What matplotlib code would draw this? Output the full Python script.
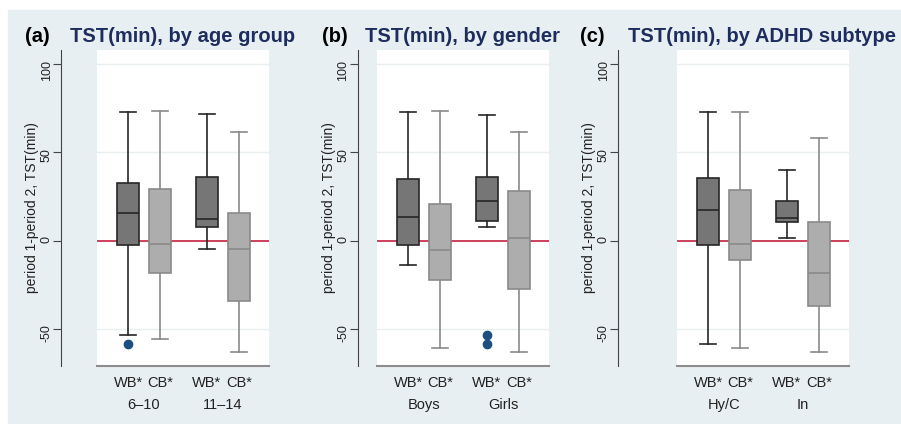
import matplotlib
matplotlib.use('Agg')
from matplotlib import pyplot as plt
from matplotlib import transforms

plt.rcParams['font.family'] = ['Liberation Sans', 'DejaVu Sans']
plt.rcParams['axes.unicode_minus'] = False

# five-number summaries, order: WB*, CB*, WB*, CB*
titles = ["TST(min), by age group", "TST(min), by gender", "TST(min), by ADHD subtype"]
panel_tags = ["(a)", "(b)", "(c)"]
groups = [["6\u201310", "11\u201314"], ["Boys", "Girls"], ["Hy/C", "In"]]
box_labels = ["WB*", "CB*", "WB*", "CB*"]

whishi = [[72.9, 73.5, 71.6, 61.5],
          [72.9, 73.3, 71.4, 61.5],
          [72.7, 73.1, 40.2, 58.1]]
q3 = [[32.8, 29.0, 36.2, 15.5],
      [34.7, 20.8, 36.2, 28.2],
      [35.6, 28.6, 22.2, 10.8]]
med = [[15.5, -1.9, 12.1, -4.9],
       [13.3, -5.3, 22.3, 1.5],
       [17.2, -1.9, 12.7, -18.6]]
q1 = [[-2.7, -18.6, 8.0, -34.3],
      [-2.7, -22.3, 11.2, -27.3],
      [-2.7, -11.2, 10.8, -36.9]]
whislo = [[-53.2, -55.9, -4.9, -63.0],
          [-13.8, -60.8, 7.6, -63.0],
          [-58.3, -60.8, 1.3, -63.0]]
fliers = [[[-58.3], [], [], []],
          [[], [], [-53.2, -58.3], []],
          [[], [], [], []]]

W, H = 901, 424
bg = '#e8eff2'
fig = plt.figure(figsize=(W / 100, H / 100), dpi=100, facecolor='white')
fig.patches.append(plt.Rectangle((8 / W, 0), 1, 1 - 10 / H, transform=fig.transFigure,
                                 color=bg, zorder=-10))

positions = [1, 2, 3.47, 4.47]
ax_left = [97, 377, 677]
spine_x = [61, 357.7, 618]
tag_x = [25, 322, 580]
title_x = [70, 365, 628]

dark_fill, dark_edge = '#767676', '#262626'
light_fill, light_edge = '#adadad', '#8a8a8a'

for p in range(3):
    ax = fig.add_axes([ax_left[p] / W, 58 / H, 172 / W, 316 / H])
    ax.set_facecolor('white')
    stats = []
    for i in range(4):
        stats.append(dict(med=med[p][i], q1=q1[p][i], q3=q3[p][i],
                          whislo=whislo[p][i], whishi=whishi[p][i],
                          fliers=fliers[p][i]))
    bp = ax.bxp(stats, positions=positions, widths=0.69, capwidths=0.5,
                patch_artist=True, manage_ticks=False,
                flierprops=dict(marker='o', markerfacecolor='#1b4f82',
                                markeredgecolor='#1b4f82', markersize=6))
    for i in range(4):
        fill, edge = (dark_fill, dark_edge) if i % 2 == 0 else (light_fill, light_edge)
        bp['boxes'][i].set(facecolor=fill, edgecolor=edge, linewidth=1.2, zorder=3)
        bp['medians'][i].set(color=edge, linewidth=1.2, zorder=4)
        for part in ('whiskers', 'caps'):
            for ln in bp[part][2 * i:2 * i + 2]:
                ln.set(color=edge, linewidth=1.2, zorder=2)

    for g in (100, 50, -50):
        ax.axhline(g, color='#eaf0f0', lw=1, zorder=0)
    ax.axhline(0, color='#c4203f', lw=1.2, zorder=1)

    ax.set_ylim(-71, 108)
    ax.set_xlim(0.03, 5.41)
    ax.set_yticks([-50, 0, 50, 100])
    ax.tick_params(axis='y', labelrotation=90, labelsize=9, length=6,
                   color='#444444', labelcolor='#222222', pad=0)
    for lbl in ax.get_yticklabels():
        lbl.set_va('center')
    ax.set_xticks(positions)
    ax.set_xticklabels(box_labels)
    ax.tick_params(axis='x', length=0, labelsize=10.5, pad=7, labelcolor='#222222')
    ax.set_ylabel("period 1-period 2, TST(min)", fontsize=10, color='#222222', va='center')
    ax.yaxis.set_label_coords((spine_x[p] - 29 - ax_left[p]) / 172, 0.5)

    for s in ('top', 'right'):
        ax.spines[s].set_visible(False)
    ax.spines['left'].set_position(('outward', (ax_left[p] - spine_x[p]) * 0.72))
    ax.spines['left'].set_color('#444444')
    ax.spines['bottom'].set_color('#8c8c8c')
    ax.spines['bottom'].set_linewidth(1.5)

    trans = transforms.blended_transform_factory(ax.transData, fig.transFigure)
    for k in range(2):
        xc = (positions[2 * k] + positions[2 * k + 1]) / 2
        ax.text(xc, 1 - 405 / H, groups[p][k], transform=trans, ha='center',
                va='center', fontsize=10.5, color='#222222')

    fig.text(tag_x[p] / W, 1 - 37 / H, panel_tags[p], fontsize=14.5, fontweight='bold',
             color='black', va='center', ha='left')
    fig.text(title_x[p] / W, 1 - 37 / H, titles[p], fontsize=14.5, fontweight='bold',
             color='#1f2d5e', va='center', ha='left')

fig.savefig('out.png', dpi=100, facecolor=fig.get_facecolor())
